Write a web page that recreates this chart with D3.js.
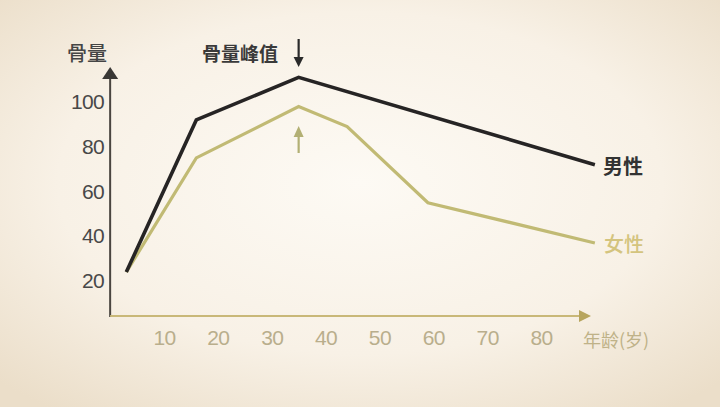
<!DOCTYPE html>
<html>
<head>
<meta charset="utf-8">
<script src="https://cdn.jsdelivr.net/npm/d3@7"></script>
<style>
  html, body { margin: 0; padding: 0; background: #f3ebdd; }
  svg { display: block; }
  .cjk { font-family: "Noto Sans CJK SC", sans-serif; }
</style>
</head>
<body>
<svg id="chart" width="720" height="407"></svg>
<script>
// Data
const xTicks = [10, 20, 30, 40, 50, 60, 70, 80];
const yTicks = [20, 40, 60, 80, 100];
const maleAges = [3, 16, 35, 90];
const maleValues = [24, 92, 111, 72];
const femaleAges = [3, 16, 35, 44, 59, 90];
const femaleValues = [24, 75, 98, 89, 55, 37];
const peakAge = 35;

const svg = d3.select("#chart");

// Background: warm cream, lighter in the middle
const defs = svg.append("defs");
const bg = defs.append("radialGradient").attr("id", "bg")
    .attr("cx", "50%").attr("cy", "45%").attr("r", "70%");
bg.append("stop").attr("offset", "0%").attr("stop-color", "#fdfaf4");
bg.append("stop").attr("offset", "60%").attr("stop-color", "#f8f1e6");
bg.append("stop").attr("offset", "100%").attr("stop-color", "#ebdec9");
svg.append("rect").attr("width", 720).attr("height", 407).attr("fill", "url(#bg)");

// Scales
const x = d3.scaleLinear().domain([10, 80]).range([164, 541]);
const y = d3.scaleLinear().domain([20, 100]).range([281, 102]);
const x0 = x(0), yBase = 316;

// Y tick labels
const yAxis = svg.append("g")
    .attr("transform", `translate(${x0 - 6},0)`)
    .call(d3.axisLeft(y).tickValues(yTicks).tickSize(0).tickPadding(0));
yAxis.select(".domain").remove();
yAxis.selectAll("text")
    .attr("fill", "#484848")
    .style("font-family", "'Liberation Sans', Arial, sans-serif")
    .style("font-size", "21px")
    .style("letter-spacing", "-0.6px");

// X tick labels
const xAxis = svg.append("g")
    .attr("transform", `translate(0,${yBase})`)
    .call(d3.axisBottom(x).tickValues(xTicks).tickSize(0).tickPadding(14));
xAxis.select(".domain").remove();
xAxis.selectAll("text")
    .attr("fill", "#b9ae8c")
    .style("font-family", "'Liberation Sans', Arial, sans-serif")
    .style("font-size", "21px")
    .style("letter-spacing", "-0.6px");

// Axis lines with arrow heads
svg.append("line").attr("x1", x0).attr("y1", yBase + 1).attr("x2", x0).attr("y2", 76)
    .attr("stroke", "#4a4540").attr("stroke-width", 2);
svg.append("path")
    .attr("d", `M${x0},67 L${x0 - 8},79 L${x0 + 8},79 Z`)
    .attr("fill", "#3a3835");
svg.append("line").attr("x1", x0).attr("y1", yBase).attr("x2", 582).attr("y2", yBase)
    .attr("stroke", "#c9b878").attr("stroke-width", 2);
svg.append("path")
    .attr("d", `M591,${yBase} L579,${yBase - 6} L579,${yBase + 6} Z`)
    .attr("fill", "#b7a55e");

// Lines
const line = d3.line().x(d => x(d[0])).y(d => y(d[1]));
svg.append("path")
    .datum(d3.zip(femaleAges, femaleValues))
    .attr("d", line)
    .attr("fill", "none")
    .attr("stroke", "#c1ba74")
    .attr("stroke-width", 3.2)
    .attr("stroke-linejoin", "miter");
svg.append("path")
    .datum(d3.zip(maleAges, maleValues))
    .attr("d", line)
    .attr("fill", "none")
    .attr("stroke", "#262424")
    .attr("stroke-width", 3.6)
    .attr("stroke-linejoin", "miter");

// Peak arrows
const px = x(peakAge);
svg.append("line").attr("x1", px).attr("y1", 39).attr("x2", px).attr("y2", 60)
    .attr("stroke", "#2a2a2a").attr("stroke-width", 2.2);
svg.append("path").attr("d", `M${px},67 L${px - 5},57 L${px + 5},57 Z`).attr("fill", "#2a2a2a");
svg.append("line").attr("x1", px).attr("y1", 134).attr("x2", px).attr("y2", 153)
    .attr("stroke", "#b3b074").attr("stroke-width", 2.2);
svg.append("path").attr("d", `M${px},126 L${px - 5},137 L${px + 5},137 Z`).attr("fill", "#b3b074");

// Texts
svg.append("text").attr("class", "cjk")
    .attr("x", 87).attr("y", 52).attr("text-anchor", "middle").attr("dominant-baseline", "central")
    .attr("fill", "#454545").attr("font-size", 20).attr("font-weight", 500).text("骨量");
svg.append("text").attr("class", "cjk")
    .attr("x", 202).attr("y", 52).attr("dominant-baseline", "central")
    .attr("fill", "#3a3a3a").attr("font-size", 19).attr("font-weight", 700).text("骨量峰值");
svg.append("text").attr("class", "cjk")
    .attr("x", 603).attr("y", y(maleValues[3]) + 1).attr("dominant-baseline", "central")
    .attr("fill", "#333").attr("font-size", 20).attr("font-weight", 700).text("男性");
svg.append("text").attr("class", "cjk")
    .attr("x", 604).attr("y", y(femaleValues[5]) + 1).attr("dominant-baseline", "central")
    .attr("fill", "#d4c47e").attr("font-size", 20).attr("font-weight", 500).text("女性");
svg.append("text").attr("class", "cjk")
    .attr("x", 583).attr("y", 339).attr("dominant-baseline", "central")
    .attr("fill", "#bfb288").attr("font-size", 18).text("年龄(岁)");
</script>
</body>
</html>
